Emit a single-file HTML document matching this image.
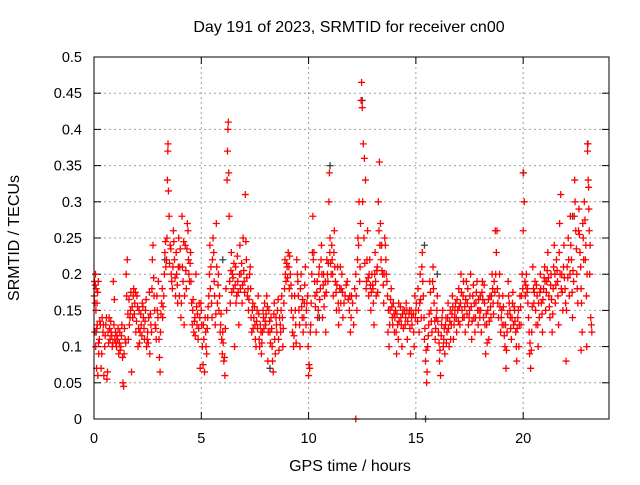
<!DOCTYPE html>
<html><head><meta charset="utf-8"><style>
html,body{margin:0;padding:0;background:#fff;}
svg text{font-family:"Liberation Sans","DejaVu Sans",sans-serif;fill:#000;}
</style></head><body>
<svg id="chart" width="640" height="480" viewBox="0 0 640 480" xmlns="http://www.w3.org/2000/svg">
<rect width="640" height="480" fill="#fff"/>
<text x="349" y="32" font-size="16" text-anchor="middle">Day 191 of 2023, SRMTID for receiver cn00</text>
<text x="350" y="471" font-size="16" text-anchor="middle">GPS time / hours</text>
<text x="0" y="0" font-size="16" text-anchor="middle" transform="translate(19,238) rotate(-90)">SRMTID / TECUs</text>
<g id="grid"></g>
<g id="ticks"></g>
<g id="marks"></g>
<rect x="94" y="57" width="515" height="362" fill="none" stroke="#000" stroke-width="1"/>
</svg>
<script>
const xTicks = [0, 5, 10, 15, 20];
const yTicks = [0, 0.05, 0.1, 0.15, 0.2, 0.25, 0.3, 0.35, 0.4, 0.45, 0.5];
const yTickLabels = ["0","0.05","0.1","0.15","0.2","0.25","0.3","0.35","0.4","0.45","0.5"];
const redPoints = [
[0.02,.19],[0.03,.12],[0.05,.16],[0.07,.2],[0.08,.1],[0.1,.18],[0.12,.07],[0.14,.16],[0.15,.13],[0.18,.06],[0.2,.19],[0.22,.09],[0.25,.11],[0.3,.13],[0.33,.07],[0.38,.14],[0.42,.12],[0.46,.06],[0.5,.1],[0.55,.13],[0.6,.055],[0.65,.12],[0.7,.14],[0.75,.11],[0.8,.12],[0.85,.1],[0.9,.19],[0.93,.13],[0.97,.11],
[1.0,.12],[1.05,.1],[1.1,.11],[1.15,.09],[1.2,.12],[1.25,.1],[1.3,.13],[1.35,.05],[1.38,.045],[1.4,.09],[1.45,.11],[1.5,.2],[1.52,.17],[1.55,.22],[1.6,.11],[1.65,.13],[1.7,.15],[1.75,.065],[1.8,.14],[1.85,.18],[1.9,.16],[1.95,.12],
[2.0,.17],[2.05,.1],[2.1,.15],[2.15,.12],[2.2,.13],[2.25,.16],[2.3,.14],[2.35,.11],[2.4,.15],[2.45,.1],[2.5,.12],[2.55,.14],[2.6,.09],[2.65,.13],[2.7,.18],[2.72,.22],[2.75,.24],[2.8,.17],[2.85,.13],[2.9,.11],[2.95,.15],[3.0,.19],
[3.05,.085],[3.08,.065],[3.1,.12],[3.15,.16],[3.2,.14],[3.25,.17],[3.3,.23],[3.35,.21],[3.4,.25],[3.42,.33],[3.44,.37],[3.45,.38],[3.47,.315],[3.5,.28],[3.55,.24],[3.6,.2],[3.65,.18],[3.7,.26],[3.75,.22],[3.8,.17],[3.85,.2],[3.9,.16],[3.95,.25],
[4.0,.21],[4.05,.14],[4.1,.28],[4.15,.19],[4.2,.13],[4.25,.24],[4.3,.18],[4.35,.27],[4.4,.22],[4.45,.19],[4.5,.23],[4.55,.16],[4.6,.15],[4.65,.12],[4.7,.14],[4.75,.2],[4.8,.13],[4.85,.11],[4.9,.16],[4.95,.07],
[5.0,.15],[5.05,.1],[5.1,.13],[5.15,.065],[5.2,.12],[5.25,.09],[5.3,.14],[5.35,.17],[5.4,.24],[5.45,.21],[5.5,.14],[5.55,.25],[5.6,.19],[5.65,.13],[5.7,.27],[5.75,.16],[5.8,.2],[5.85,.17],[5.9,.13],[5.95,.11],
[6.0,.12],[6.05,.08],[6.1,.06],[6.15,.18],[6.2,.33],[6.22,.37],[6.24,.4],[6.26,.41],[6.28,.34],[6.3,.28],[6.35,.16],[6.4,.23],[6.45,.2],[6.5,.18],[6.55,.1],[6.6,.21],[6.65,.17],[6.7,.19],[6.75,.13],[6.8,.24],[6.85,.2],[6.9,.16],[6.95,.25],
[7.0,.19],[7.05,.31],[7.1,.22],[7.15,.17],[7.2,.15],[7.25,.2],[7.3,.18],[7.35,.12],[7.4,.16],[7.45,.14],[7.5,.13],[7.55,.1],[7.6,.15],[7.65,.17],[7.7,.11],[7.75,.13],[7.8,.09],[7.85,.12],[7.9,.14],[7.95,.16],
[8.0,.13],[8.05,.17],[8.1,.08],[8.15,.15],[8.2,.12],[8.25,.14],[8.3,.1],[8.35,.065],[8.4,.16],[8.45,.09],[8.5,.13],[8.55,.15],[8.6,.11],[8.65,.14],[8.7,.12],[8.75,.17],[8.8,.1],[8.85,.16],[8.9,.22],[8.95,.19],
[9.0,.21],[9.05,.23],[9.1,.18],[9.15,.2],[9.2,.15],[9.25,.12],[9.3,.1],[9.35,.17],[9.4,.13],[9.45,.22],[9.5,.19],[9.55,.15],[9.6,.1],[9.65,.2],[9.7,.14],[9.75,.12],[9.8,.16],[9.85,.21],[9.9,.15],[9.95,.17],
[10.0,.06],[10.05,.07],[10.1,.13],[10.15,.2],[10.2,.28],[10.25,.23],[10.3,.17],[10.35,.12],[10.4,.19],[10.45,.15],[10.5,.21],[10.55,.18],[10.6,.24],[10.65,.14],[10.7,.2],[10.75,.17],[10.8,.12],[10.85,.22],[10.9,.19],[10.95,.3],[10.97,.34],
[11.0,.25],[11.05,.2],[11.1,.22],[11.15,.17],[11.2,.26],[11.25,.19],[11.3,.15],[11.35,.21],[11.4,.13],[11.45,.18],[11.5,.16],[11.55,.2],[11.6,.14],[11.7,.17],[11.8,.19],[11.9,.15],[11.95,.12],
[12.0,.17],[12.1,.13],[12.2,.2],[12.25,.15],[12.3,.25],[12.35,.3],[12.4,.21],[12.45,.44],[12.47,.465],[12.5,.43],[12.55,.38],[12.6,.36],[12.65,.33],[12.7,.19],[12.75,.26],[12.8,.17],[12.85,.22],[12.9,.15],[12.95,.2],
[13.0,.18],[13.05,.13],[13.1,.23],[13.15,.17],[13.2,.21],[13.25,.3],[13.3,.355],[13.35,.27],[13.4,.24],[13.45,.2],[13.5,.16],[13.55,.25],[13.6,.22],[13.65,.19],[13.7,.12],[13.75,.1],[13.8,.15],[13.85,.18],[13.9,.14],[13.95,.16],
[14.0,.12],[14.05,.15],[14.1,.09],[14.15,.13],[14.2,.16],[14.3,.14],[14.35,.1],[14.4,.15],[14.5,.13],[14.55,.16],[14.6,.11],[14.7,.15],[14.75,.09],[14.8,.14],[14.9,.12],[14.95,.17],
[15.0,.15],[15.1,.18],[15.15,.12],[15.2,.2],[15.25,.14],[15.3,.23],[15.35,.17],[15.4,.11],[15.45,.08],[15.5,.05],[15.55,.1],[15.6,.13],[15.65,.19],[15.7,.15],[15.75,.12],[15.8,.21],[15.85,.16],[15.9,.11],[15.95,.14],
[16.0,.17],[16.05,.12],[16.1,.08],[16.15,.06],[16.2,.13],[16.25,.15],[16.3,.11],[16.35,.09],[16.4,.14],[16.45,.12],[16.5,.16],[16.55,.1],[16.6,.15],[16.65,.13],[16.7,.17],[16.75,.11],[16.8,.14],[16.85,.16],[16.9,.12],[16.95,.15],
[17.0,.18],[17.05,.13],[17.1,.2],[17.15,.15],[17.2,.17],[17.25,.14],[17.3,.12],[17.35,.19],[17.4,.16],[17.45,.13],[17.5,.15],[17.55,.2],[17.6,.11],[17.65,.17],[17.7,.14],[17.75,.12],[17.8,.16],[17.85,.19],[17.9,.13],[17.95,.15],
[18.0,.17],[18.05,.12],[18.1,.19],[18.15,.14],[18.2,.16],[18.25,.09],[18.3,.13],[18.35,.15],[18.4,.11],[18.45,.17],[18.5,.14],[18.55,.2],[18.6,.16],[18.65,.19],[18.7,.26],[18.75,.23],[18.8,.18],[18.85,.14],[18.9,.2],[18.95,.12],
[19.0,.15],[19.05,.17],[19.1,.13],[19.15,.1],[19.2,.07],[19.25,.12],[19.3,.19],[19.35,.16],[19.4,.14],[19.45,.11],[19.5,.16],[19.55,.13],[19.6,.15],[19.65,.12],[19.7,.08],[19.75,.14],[19.8,.1],[19.85,.17],[19.9,.13],[19.95,.2],
[20.0,.26],[20.02,.34],[20.05,.3],[20.08,.19],[20.1,.17],[20.15,.2],[20.2,.18],[20.25,.14],[20.3,.09],[20.35,.07],[20.4,.12],[20.45,.21],[20.5,.16],[20.55,.19],[20.6,.13],[20.65,.17],[20.7,.1],[20.75,.14],[20.8,.2],[20.85,.16],[20.9,.12],[20.95,.18],
[21.0,.21],[21.05,.15],[21.1,.19],[21.15,.23],[21.2,.17],[21.25,.14],[21.3,.2],[21.35,.12],[21.4,.18],[21.45,.24],[21.5,.16],[21.55,.22],[21.6,.19],[21.65,.13],[21.7,.27],[21.75,.31],[21.8,.2],[21.85,.15],[21.9,.24],[21.95,.18],
[22.0,.08],[22.05,.21],[22.1,.25],[22.15,.17],[22.2,.28],[22.25,.22],[22.3,.14],[22.35,.19],[22.4,.33],[22.45,.26],[22.5,.2],[22.55,.16],[22.6,.29],[22.65,.23],[22.7,.18],[22.75,.12],[22.8,.25],[22.85,.3],[22.9,.22],[22.95,.17],
[23.0,.37],[23.02,.38],[23.05,.32],[23.08,.26],[23.1,.2],[23.15,.14],[23.2,.12],[12.2,0]
];
const redPoints2 = [
[0.01,.17],[0.06,.185],[0.09,.15],[0.13,.125],[0.17,.175],[0.21,.105],[0.27,.135],[0.36,.09],[0.44,.13],[0.52,.115],[0.58,.14],[0.63,.065],[0.68,.105],[0.73,.125],[0.78,.135],[0.83,.115],[0.88,.105],[0.95,.165],
[1.02,.105],[1.07,.115],[1.12,.125],[1.18,.105],[1.22,.095],[1.28,.115],[1.33,.085],[1.42,.125],[1.48,.105],[1.58,.145],[1.63,.165],[1.68,.14],[1.72,.175],[1.78,.155],[1.83,.17],[1.88,.145],[1.93,.175],[1.98,.135],
[2.03,.155],[2.08,.125],[2.12,.105],[2.18,.145],[2.23,.115],[2.28,.155],[2.33,.125],[2.38,.135],[2.43,.165],[2.48,.11],[2.53,.105],[2.58,.175],[2.63,.145],[2.68,.12],[2.78,.195],[2.83,.15],[2.88,.125],[2.93,.17],[2.98,.14],
[3.03,.11],[3.12,.145],[3.18,.18],[3.22,.155],[3.28,.2],[3.33,.245],[3.38,.22],[3.52,.215],[3.58,.235],[3.62,.19],[3.68,.21],[3.72,.245],[3.78,.195],[3.83,.23],[3.88,.185],[3.93,.21],[3.98,.17],
[4.02,.235],[4.07,.16],[4.12,.21],[4.18,.245],[4.22,.17],[4.28,.205],[4.33,.235],[4.38,.26],[4.42,.2],[4.48,.215],[4.52,.19],[4.58,.13],[4.62,.165],[4.68,.135],[4.72,.115],[4.78,.155],[4.82,.145],[4.88,.125],[4.93,.14],[4.98,.16],
[5.02,.13],[5.08,.075],[5.12,.11],[5.18,.14],[5.22,.1],[5.28,.125],[5.32,.155],[5.38,.2],[5.42,.18],[5.48,.16],[5.52,.22],[5.58,.23],[5.62,.17],[5.68,.145],[5.72,.21],[5.78,.185],[5.82,.15],[5.88,.12],[5.92,.145],[5.98,.09],
[6.02,.105],[6.08,.085],[6.12,.125],[6.18,.15],[6.32,.19],[6.38,.205],[6.42,.175],[6.48,.195],[6.52,.215],[6.58,.185],[6.62,.16],[6.68,.225],[6.72,.175],[6.78,.2],[6.82,.18],[6.88,.215],[6.92,.185],[6.98,.205],
[7.02,.175],[7.08,.245],[7.12,.195],[7.18,.18],[7.22,.165],[7.28,.21],[7.32,.14],[7.38,.15],[7.42,.125],[7.48,.155],[7.52,.11],[7.58,.135],[7.62,.125],[7.68,.145],[7.72,.1],[7.78,.12],[7.82,.105],[7.88,.15],[7.92,.125],[7.98,.135],
[8.02,.145],[8.08,.155],[8.12,.12],[8.18,.135],[8.22,.105],[8.28,.125],[8.32,.08],[8.38,.145],[8.42,.11],[8.48,.14],[8.52,.12],[8.58,.165],[8.62,.095],[8.68,.13],[8.72,.15],[8.78,.14],[8.82,.125],[8.88,.18],[8.92,.2],[8.98,.215],
[9.02,.195],[9.08,.21],[9.12,.225],[9.18,.185],[9.22,.17],[9.28,.14],[9.32,.115],[9.38,.15],[9.42,.105],[9.48,.2],[9.52,.17],[9.58,.13],[9.62,.18],[9.68,.155],[9.72,.165],[9.78,.14],[9.82,.185],[9.88,.13],[9.92,.16],[9.98,.1],
[10.02,.075],[10.08,.12],[10.12,.16],[10.18,.23],[10.22,.22],[10.28,.19],[10.32,.155],[10.38,.175],[10.42,.14],[10.48,.2],[10.52,.165],[10.58,.22],[10.62,.2],[10.68,.185],[10.72,.155],[10.78,.19],[10.82,.175],[10.88,.2],[10.92,.215],[10.99,.23],
[11.02,.215],[11.08,.24],[11.12,.2],[11.18,.23],[11.22,.21],[11.28,.175],[11.32,.185],[11.38,.16],[11.42,.15],[11.48,.21],[11.52,.18],[11.58,.175],[11.65,.16],[11.75,.185],[11.85,.165],[11.92,.17],[11.98,.14],
[12.05,.16],[12.15,.18],[12.22,.17],[12.28,.22],[12.33,.24],[12.38,.19],[12.42,.27],[12.52,.3],[12.58,.25],[12.62,.215],[12.68,.18],[12.72,.22],[12.78,.195],[12.82,.2],[12.88,.185],[12.92,.175],[12.98,.185],
[13.02,.16],[13.08,.2],[13.12,.19],[13.18,.205],[13.22,.175],[13.28,.26],[13.32,.24],[13.38,.22],[13.42,.205],[13.48,.185],[13.52,.2],[13.58,.24],[13.62,.2],[13.68,.17],[13.72,.15],[13.78,.13],[13.82,.165],[13.88,.155],[13.92,.13],[13.98,.145],
[14.02,.14],[14.08,.12],[14.12,.145],[14.18,.11],[14.22,.135],[14.28,.155],[14.32,.13],[14.38,.145],[14.42,.125],[14.48,.15],[14.52,.14],[14.58,.15],[14.62,.135],[14.68,.145],[14.72,.125],[14.78,.15],[14.82,.13],[14.88,.145],[14.92,.1],[14.98,.14],
[15.02,.16],[15.08,.135],[15.12,.15],[15.18,.16],[15.22,.165],[15.28,.21],[15.32,.19],[15.38,.14],[15.42,.125],[15.48,.095],[15.52,.065],[15.58,.115],[15.62,.145],[15.68,.175],[15.72,.135],[15.78,.19],[15.82,.18],[15.88,.135],[15.92,.125],[15.98,.15],
[16.02,.135],[16.08,.105],[16.12,.095],[16.18,.115],[16.22,.14],[16.28,.1],[16.32,.125],[16.38,.13],[16.42,.105],[16.48,.14],[16.52,.125],[16.58,.135],[16.62,.11],[16.68,.145],[16.72,.155],[16.78,.13],[16.82,.15],[16.88,.14],[16.92,.165],[16.98,.135],
[17.02,.155],[17.08,.16],[17.12,.175],[17.18,.14],[17.22,.19],[17.28,.155],[17.32,.165],[17.38,.145],[17.42,.18],[17.48,.14],[17.52,.17],[17.58,.155],[17.62,.135],[17.68,.185],[17.72,.16],[17.78,.14],[17.82,.175],[17.88,.15],[17.92,.165],[17.98,.14],
[18.02,.15],[18.08,.175],[18.12,.165],[18.18,.185],[18.22,.13],[18.28,.145],[18.32,.105],[18.38,.165],[18.42,.135],[18.48,.155],[18.52,.17],[18.58,.18],[18.62,.145],[18.68,.175],[18.72,.2],[18.78,.26],[18.82,.16],[18.88,.17],[18.92,.155],[18.98,.14],
[19.02,.13],[19.08,.155],[19.12,.115],[19.18,.13],[19.22,.095],[19.28,.145],[19.32,.17],[19.38,.15],[19.42,.125],[19.48,.14],[19.52,.175],[19.58,.155],[19.62,.135],[19.68,.1],[19.72,.125],[19.78,.15],[19.82,.13],[19.88,.155],[19.92,.17],[19.98,.18],
[20.12,.185],[20.18,.175],[20.22,.16],[20.28,.12],[20.32,.105],[20.38,.095],[20.42,.155],[20.48,.18],[20.52,.175],[20.58,.15],[20.62,.185],[20.68,.13],[20.72,.16],[20.78,.175],[20.82,.18],[20.88,.145],[20.92,.165],[20.98,.195],
[21.02,.19],[21.08,.175],[21.12,.205],[21.18,.195],[21.22,.155],[21.28,.185],[21.32,.165],[21.38,.145],[21.42,.21],[21.48,.2],[21.52,.185],[21.58,.205],[21.62,.17],[21.68,.23],[21.72,.2],[21.78,.18],[21.82,.175],[21.88,.21],[21.92,.195],[21.98,.16],
[22.02,.15],[22.08,.195],[22.12,.22],[22.18,.2],[22.22,.24],[22.28,.175],[22.32,.205],[22.38,.28],[22.42,.3],[22.48,.235],[22.52,.18],[22.58,.26],[22.62,.255],[22.68,.21],[22.72,.16],[22.78,.27],[22.82,.22],[22.88,.275],[22.92,.24],[22.98,.2],
[23.03,.33],[23.06,.29],[23.12,.24],[23.18,.13],[22.96,.1],[22.7,.095]
];
const grayPoints = [[0.1,.12],[3.3,.22],[6.0,.22],[8.2,.07],[10.5,.14],[11.0,.35],[12.5,.44],[13.4,.24],[15.4,.24],[16.0,.2],[20.0,.34],[22.3,.28],[23.0,.38],[15.45,0]];

const X0=94, X1=609, Y0=419, Y1=57;
const xScale = h => X0 + (h/24)*(X1-X0);
const yScale = v => Y0 - (v/0.5)*(Y0-Y1);
const NS="http://www.w3.org/2000/svg";
const grid=document.getElementById('grid'), ticks=document.getElementById('ticks'), marks=document.getElementById('marks');
function mk(tag, attrs, parent){const e=document.createElementNS(NS,tag);for(const k in attrs)e.setAttribute(k,attrs[k]);parent.appendChild(e);return e;}

yTicks.forEach((v,i)=>{
  const y=yScale(v);
  if(i>0&&i<yTicks.length-1){
    const g=mk('line',{x1:X0,x2:X1,y1:y,y2:y,stroke:'#a0a0a0','stroke-dasharray':'2,3','stroke-width':1},grid);
    
    
  }
  const t1=mk('line',{x1:X0,x2:X0+7,y1:y,y2:y,stroke:'#000'},ticks);
  
  
  const t2=mk('line',{x1:X1-7,x2:X1,y1:y,y2:y,stroke:'#000'},ticks);
  
  
  const lb=mk('text',{x:82,y:y+5,'font-size':14.5,'text-anchor':'end'},ticks);
  lb.textContent=yTickLabels[i];
  
  
});
xTicks.forEach(h=>{
  const x=xScale(h);
  if(h>0){
    const g=mk('line',{x1:x,x2:x,y1:Y1,y2:Y0,stroke:'#a0a0a0','stroke-dasharray':'2,3','stroke-width':1},grid);
    
    
  }
  const t1=mk('line',{x1:x,x2:x,y1:Y0-7,y2:Y0,stroke:'#000'},ticks);
  
  
  const t2=mk('line',{x1:x,x2:x,y1:Y1,y2:Y1+7,stroke:'#000'},ticks);
  
  
  const lb=mk('text',{x:x,y:443,'font-size':14.5,'text-anchor':'middle'},ticks);
  lb.textContent=String(h);
  
  
});
function plus(h,v,color,name){
  const x=xScale(h), y=yScale(v);
  const p=mk('path',{d:`M${x-3.5},${y}H${x+3.5}M${x},${y-3.5}V${y+3.5}`,stroke:color,'stroke-width':1.3,fill:'none'},marks);
  
  
}
grayPoints.forEach(p=>plus(p[0],p[1],'#404040','gray-point'));
redPoints.forEach(p=>plus(p[0],p[1],'#ff0000','red-point'));
redPoints2.forEach(p=>plus(p[0],p[1],'#ff0000','red-point'));
</script>
</body></html>
